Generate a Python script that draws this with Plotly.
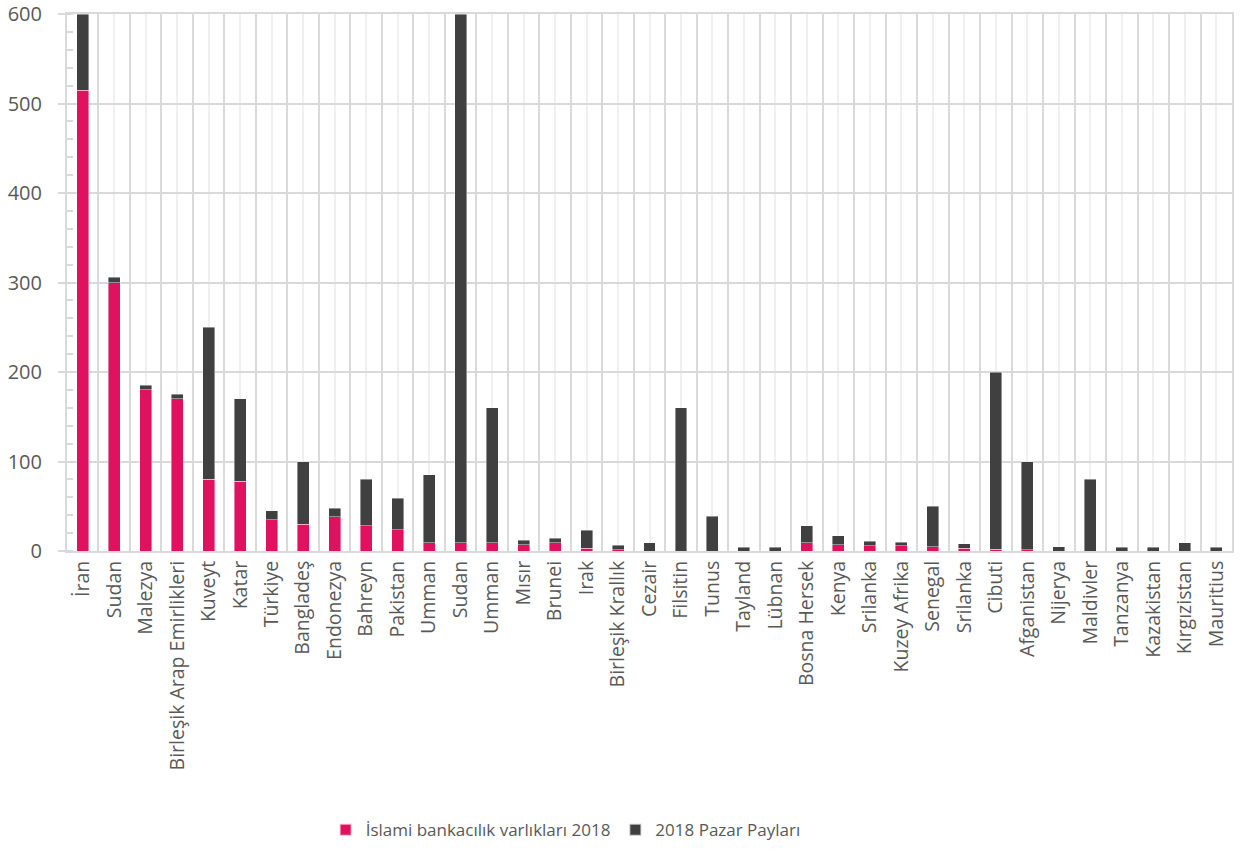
import plotly.graph_objects as go

categories = ["İran", "Sudan", "Malezya", "Birleşik Arap Emirlikleri", "Kuveyt", "Katar",
              "Türkiye", "Bangladeş", "Endonezya", "Bahreyn", "Pakistan", "Umman", "Sudan",
              "Umman", "Mısır", "Brunei", "Irak", "Birleşik Krallık", "Cezair", "Filsitin",
              "Tunus", "Tayland", "Lübnan", "Bosna Hersek", "Kenya", "Srilanka", "Kuzey Afrika",
              "Senegal", "Srilanka", "Cibuti", "Afganistan", "Nijerya", "Maldivler", "Tanzanya",
              "Kazakistan", "Kırgızistan", "Mauritius"]

islamic_assets = [515, 300, 180, 170, 80, 78, 35, 30, 38, 28, 24, 9, 9,
                  9, 7, 9, 3, 1.5, 0, 0,
                  0, 0, 0, 9, 7, 6, 6,
                  5, 3, 2, 1.5, 0, 0, 0,
                  0, 0, 0]

market_share = [85, 6, 5, 5, 170, 92, 10, 70, 10, 52, 35, 76, 591,
                151, 5, 5, 20, 5, 9, 160,
                39, 4, 4, 19, 10, 5, 4,
                45, 5, 198, 98.5, 5, 80, 4,
                4, 9, 4]

series_names = ["İslami bankacılık varlıkları 2018", "2018 Pazar Payları"]
colors = ["#E0115F", "#404040"]

x = list(range(len(categories)))

fig = go.Figure()
fig.add_trace(go.Bar(x=x, y=islamic_assets, name=series_names[0],
                     marker=dict(color=colors[0], line=dict(width=0.6, color="rgba(255,255,255,0.7)")),
                     width=0.38))
fig.add_trace(go.Bar(x=x, y=market_share, name=series_names[1],
                     marker=dict(color=colors[1], line=dict(width=0.6, color="rgba(255,255,255,0.7)")),
                     width=0.38))

font_family = "Open Sans"
txt = "#595959"
grid_major = "#D9D9D9"
grid_minor = "#F0F0F0"

fig.update_layout(
    barmode="stack",
    width=1245, height=850,
    margin=dict(l=67, r=13, t=14, b=299, autoexpand=False),
    plot_bgcolor="white", paper_bgcolor="white",
    font=dict(family=font_family, color=txt, size=19.5),
    showlegend=True,
    legend=dict(orientation="h", x=0.222, xanchor="left", y=-0.52, yanchor="middle",
                font=dict(size=17, color=txt), traceorder="normal",
                itemsizing="constant", itemwidth=30),
    xaxis=dict(
        range=[-0.5, len(categories) - 0.5],
        tickmode="array", tickvals=x, ticktext=categories,
        tickangle=-90, tickfont=dict(size=19.5, color=txt),
        showgrid=True, gridcolor=grid_minor, gridwidth=2,
        showline=True, linecolor=grid_major, linewidth=2, mirror=True,
        ticks="", ticklabelstandoff=0, automargin=False,
        minor=dict(tickmode="linear", tick0=0.5, dtick=1, showgrid=True,
                   gridcolor=grid_major, gridwidth=2, ticks=""),
        zeroline=False,
    ),
    yaxis=dict(
        range=[0, 600], tickmode="linear", tick0=0, dtick=100,
        tickfont=dict(size=20, color=txt),
        showgrid=True, gridcolor=grid_major, gridwidth=2,
        showline=True, linecolor=grid_major, linewidth=2, mirror=True,
        ticks="outside", ticklen=7, tickcolor=grid_major, tickwidth=2,
        ticklabelstandoff=12, automargin=False,
        minor=dict(tickmode="linear", tick0=0, dtick=20, ticks="inside", ticklen=6,
                   tickcolor=grid_major, tickwidth=1.5, showgrid=False),
        zeroline=False,
    ),
    bargap=0.6,
)

fig.write_html("out.html")
